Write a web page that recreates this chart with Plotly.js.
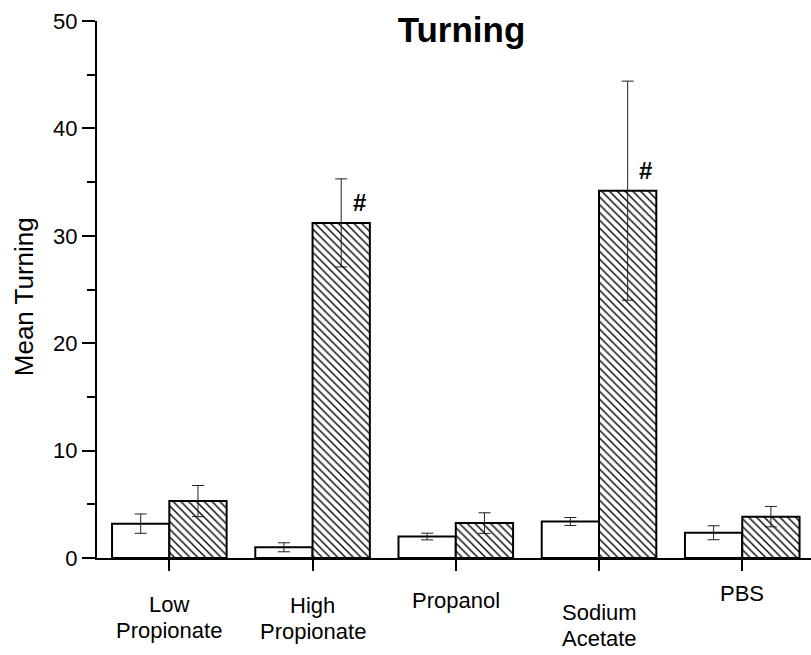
<!DOCTYPE html>
<html>
<head>
<meta charset="utf-8">
<script src="https://cdn.plot.ly/plotly-3.0.1.min.js"></script>
<style>html,body{margin:0;padding:0;background:#fff;}#chart{width:811px;height:655px;}</style>
</head>
<body>
<div id="chart"></div>
<script>
const categories = ["Low Propionate", "High Propionate", "Propanol", "Sodium Acetate", "PBS"];
const categoryLabelLines = [["Low", "Propionate"], ["High", "Propionate"], ["Propanol"], ["Sodium", "Acetate"], ["PBS"]];
const openValues = [3.2, 1.0, 2.0, 3.4, 2.35];
const openErrors = [0.9, 0.42, 0.31, 0.37, 0.65];
const hatchedValues = [5.3, 31.2, 3.25, 34.2, 3.85];
const hatchedErrors = [1.45, 4.1, 0.96, 10.2, 0.95];
const significance = ["", "#", "", "#", ""];

const xIdx = categories.map((c, i) => i);
const labelFirstShift = [-46, -47, -42, -54, -35];
const labelLineGap = 26;

const font = "Liberation Sans, Arial, sans-serif";

const traces = [
  {
    type: "bar", x: xIdx, y: openValues,
    marker: {color: "#ffffff", line: {color: "#000", width: 2}},
    error_y: {type: "data", array: openErrors, visible: true, color: "#222", thickness: 1, width: 6},
    hoverinfo: "skip"
  },
  {
    type: "bar", x: xIdx, y: hatchedValues,
    marker: {color: "#ffffff", line: {color: "#000", width: 2},
      pattern: {shape: "\\", fgcolor: "#000", bgcolor: "#fff", size: 5.5, solidity: 0.25}},
    error_y: {type: "data", array: hatchedErrors, visible: true, color: "#222", thickness: 1, width: 6},
    hoverinfo: "skip"
  }
];

const annotations = [];
categories.forEach((c, i) => {
  categoryLabelLines[i].forEach((line, k) => {
    annotations.push({
      x: i, y: 0, xref: "x", yref: "paper", text: line,
      showarrow: false, yanchor: "middle", yshift: labelFirstShift[i] - k * labelLineGap,
      font: {family: font, size: 22, color: "#000"}
    });
  });
  if (significance[i]) {
    annotations.push({
      x: i + 0.2, y: hatchedValues[i], xref: "x", yref: "y", text: "<b>" + significance[i] + "</b>",
      showarrow: false, xshift: 18, yshift: 20,
      font: {family: font, size: 24, color: "#000"}
    });
  }
});

const layout = {
  width: 811, height: 655,
  margin: {l: 97, r: 0, t: 21, b: 97},
  paper_bgcolor: "#fff", plot_bgcolor: "#fff",
  showlegend: false,
  barmode: "group", bargap: 0.2, bargroupgap: 0,
  title: {text: "<b>Turning</b>", x: 461.5 / 811, xref: "container", xanchor: "center",
    y: 1 - 30 / 655, yref: "container", yanchor: "middle",
    font: {family: font, size: 35, color: "#000"}},
  xaxis: {
    range: [-0.505, 4.48], tickvals: xIdx, showticklabels: false,
    ticks: "outside", ticklen: 11, tickwidth: 2, tickcolor: "#000",
    showline: true, linecolor: "#000", linewidth: 2, showgrid: false, zeroline: false, fixedrange: true
  },
  yaxis: {
    range: [0, 50], dtick: 10, tick0: 0,
    ticks: "outside", ticklen: 13, tickwidth: 2, tickcolor: "#000",
    minor: {dtick: 5, ticks: "outside", ticklen: 8, tickwidth: 2, tickcolor: "#000", showgrid: false},
    showline: true, linecolor: "#000", linewidth: 2, showgrid: false, zeroline: false,
    tickfont: {family: font, size: 22, color: "#000"},
    title: {text: "Mean Turning&nbsp;&nbsp;", font: {family: font, size: 26, color: "#000"}, standoff: 12},
    fixedrange: true
  },
  annotations: annotations
};

Plotly.newPlot("chart", traces, layout, {displayModeBar: false, staticPlot: true});
</script>
</body>
</html>
